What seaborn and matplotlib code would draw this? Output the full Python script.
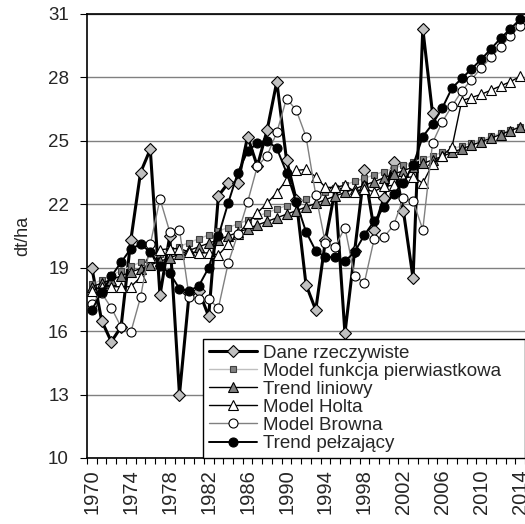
import matplotlib
matplotlib.use("Agg")
import matplotlib.pyplot as plt
import seaborn as sns
import numpy as np
from matplotlib.ticker import FixedLocator, NullFormatter

sns.set_theme(style="white")
plt.rcParams['font.family'] = ['Liberation Sans', 'DejaVu Sans']

years = list(range(1970, 2015))
years_obs = list(range(1970, 2006))

dane = [19.0, 16.5, 15.5, 16.2, 20.3, 23.5, 24.6, 17.7, 20.5, 13.0,
        17.8, 17.9, 16.7, 22.4, 23.0, 23.0, 25.2, 23.8, 25.5, 27.8,
        24.1, 22.2, 18.2, 17.0, 20.3, 22.7, 15.9, 19.8, 23.6, 20.8,
        22.3, 24.0, 21.7, 18.5, 30.3, 26.3]

pierwiastkowa = [18.22, 18.42, 18.64, 18.86, 19.06, 19.26, 19.45, 19.63, 19.82, 20.00,
                 20.19, 20.37, 20.55, 20.73, 20.90, 21.07, 21.25, 21.43, 21.60, 21.77,
                 21.94, 22.10, 22.27, 22.43, 22.60, 22.76, 22.92, 23.08, 23.23, 23.39,
                 23.55, 23.70, 23.85, 24.00, 24.15, 24.30, 24.45, 24.61, 24.76, 24.91,
                 25.06, 25.21, 25.36, 25.52, 25.67]

liniowy = [18.10, 18.27, 18.44, 18.61, 18.79, 18.96, 19.13, 19.30, 19.47, 19.64,
           19.82, 19.99, 20.16, 20.33, 20.50, 20.67, 20.84, 21.02, 21.19, 21.36,
           21.53, 21.70, 21.87, 22.04, 22.22, 22.39, 22.56, 22.73, 22.90, 23.07,
           23.25, 23.42, 23.59, 23.76, 23.93, 24.10, 24.27, 24.45, 24.62, 24.79,
           24.96, 25.13, 25.30, 25.48, 25.65]

holt = [17.9, 18.1, 18.1, 18.1, 18.1, 18.55, 19.5, 19.85, 19.9, 19.9,
        19.75, 19.7, 19.7, 19.6, 20.1, 20.6, 21.1, 21.6, 22.05, 22.55,
        23.15, 23.6, 23.65, 23.3, 22.8, 22.8, 22.9, 22.6, 22.7, 22.6,
        22.85, 22.9, 23.25, 23.3, 23.0, 23.9, 24.3, 24.7, 26.9, 27.05,
        27.2, 27.4, 27.6, 27.8, 28.05]

browna = [17.3, 17.8, 17.1, 16.2, 15.95, 17.6, 20.1, 22.25, 20.7, 20.8,
          17.6, 17.5, 17.5, 17.1, 19.2, 20.6, 22.1, 23.8, 24.3, 25.4,
          27.0, 26.45, 25.2, 22.45, 20.15, 20.0, 20.9, 18.6, 18.3, 20.35,
          20.45, 21.0, 22.3, 22.15, 20.8, 24.9, 25.9, 26.65, 27.35, 27.9,
          28.45, 28.95, 29.45, 29.95, 30.45]

pelzajacy = [17.0, 17.85, 18.6, 19.25, 19.9, 20.1, 19.75, 19.1, 18.75, 18.0,
             17.9, 18.15, 19.0, 20.5, 22.05, 23.5, 24.5, 24.9, 25.0, 24.65,
             23.5, 22.1, 20.7, 19.8, 19.5, 19.5, 19.3, 19.75, 20.55, 21.2,
             21.85, 22.5, 23.0, 23.85, 25.2, 25.8, 26.55, 27.5, 27.95, 28.4,
             28.85, 29.35, 29.85, 30.3, 30.75]

labels = ["Dane rzeczywiste", "Model funkcja pierwiastkowa", "Trend liniowy",
          "Model Holta", "Model Browna", "Trend pełzający"]
yticks = [10, 13, 16, 19, 22, 25, 28, 31]
xtick_years = list(range(1970, 2015, 4))

fig = plt.figure(figsize=(5.25, 5.24), dpi=100)
ax = fig.add_axes([87/525, 1-458/524, 1-87/525, (458-14)/524])

ax.yaxis.grid(True, color="#808080", lw=1.0)
ax.set_axisbelow(True)

ms = 6.5
mew = 0.8
sns.lineplot(x=years_obs, y=dane, ax=ax, color="black", lw=2.2, marker="D",
             markersize=6, markerfacecolor="#C0C0C0", markeredgecolor="black",
             markeredgewidth=mew, label=labels[0], zorder=3)
sns.lineplot(x=years, y=pierwiastkowa, ax=ax, color="#BFBFBF", lw=1.0, marker="s",
             markersize=5, markerfacecolor="#808080", markeredgecolor="#404040",
             markeredgewidth=mew, label=labels[1], zorder=3)
sns.lineplot(x=years, y=liniowy, ax=ax, color="black", lw=1.0, marker="^",
             markersize=ms, markerfacecolor="#808080", markeredgecolor="black",
             markeredgewidth=mew, label=labels[2], zorder=3)
sns.lineplot(x=years, y=holt, ax=ax, color="black", lw=1.0, marker="^",
             markersize=ms, markerfacecolor="white", markeredgecolor="black",
             markeredgewidth=mew, label=labels[3], zorder=3)
sns.lineplot(x=years, y=browna, ax=ax, color="#808080", lw=1.0, marker="o",
             markersize=ms, markerfacecolor="white", markeredgecolor="black",
             markeredgewidth=mew, label=labels[4], zorder=3)
sns.lineplot(x=years, y=pelzajacy, ax=ax, color="black", lw=1.4, marker="o",
             markersize=ms, markerfacecolor="black", markeredgecolor="black",
             markeredgewidth=mew, label=labels[5], zorder=3)

ax.set_xlim(1969.5, 2014.5)
ax.set_ylim(10, 31)
ax.set_yticks(yticks)
ax.set_yticklabels([str(v) for v in yticks])
ax.xaxis.set_major_locator(FixedLocator(xtick_years))
ax.set_xticklabels([str(y) for y in xtick_years], rotation=90)
ax.xaxis.set_minor_locator(FixedLocator([y + 0.5 for y in range(1969, 2015)]))
ax.xaxis.set_minor_formatter(NullFormatter())
ax.tick_params(axis="x", which="major", length=0, pad=8, labelsize=14.5)
ax.tick_params(axis="x", which="minor", length=4, width=0.8, color="black", direction="out", bottom=True)
ax.tick_params(axis="y", which="major", length=5, width=0.8, color="black", direction="out", left=True, pad=8, labelsize=13.5)

for s in ["left", "bottom", "top"]:
    ax.spines[s].set_visible(True)
    ax.spines[s].set_color("black")
    ax.spines[s].set_linewidth(1.2)
ax.spines["right"].set_visible(False)

ax.set_xlabel("")
ax.set_ylabel("dt/ha", fontsize=13, labelpad=12)

h, l = ax.get_legend_handles_labels()
ax.get_legend().remove()
leg = fig.legend(h, l, loc="upper left", mode="expand",
                 bbox_to_anchor=(203/525, 1-458/524, 322/525, 119/524),
                 frameon=True, fancybox=False, framealpha=1, edgecolor="black",
                 fontsize=13.5, labelspacing=0.05, handlelength=2.6,
                 handletextpad=0.3, borderpad=0.3, borderaxespad=0)
leg.get_frame().set_linewidth(1.0)
leg.set_zorder(10)

fig.savefig("out.png", dpi=100)
